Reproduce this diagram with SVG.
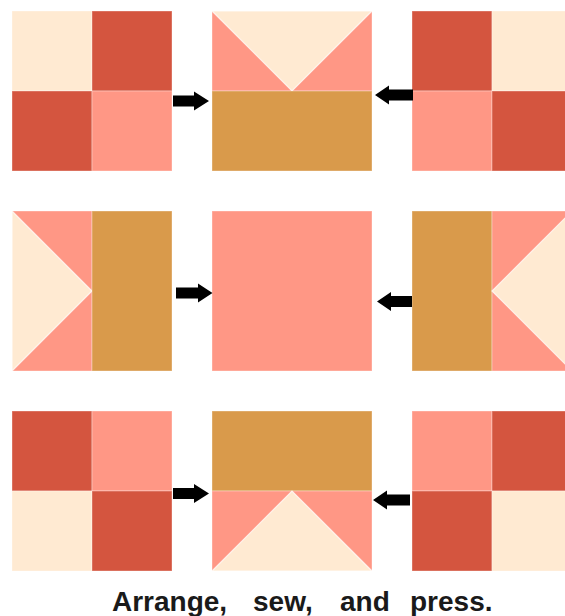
<svg xmlns="http://www.w3.org/2000/svg" width="565" height="616" viewBox="0 0 565 616">
<style>
.cr{fill:#FFEAD2}
.rd{fill:#D4553F}
.pk{fill:#FF9785}
.br{fill:#D99A4B}
.patch rect,.patch polygon{stroke:#fff;stroke-opacity:.35;stroke-width:1}
.patch .seam{stroke:#fff;stroke-opacity:.75;stroke-width:1.2}
.arrow{fill:#000}
.cap{font-family:"Liberation Sans",Arial,sans-serif;font-size:28px;font-weight:bold;fill:#1a1a1a}
</style>
<rect width="565" height="616" fill="#fff"/>

<!-- Row 1 -->
<g id="block-r1-left" class="patch">
<rect class="cr" x="12" y="11" width="80" height="80"/>
<rect class="rd" x="92" y="11" width="80" height="80"/>
<rect class="rd" x="12" y="91" width="80" height="80"/>
<rect class="pk" x="92" y="91" width="80" height="80"/>
</g>
<g id="block-r1-mid" class="patch">
<rect class="pk" x="212" y="11" width="160" height="80"/>
<polygon class="cr seam" points="212,11 372,11 292,91"/>
<rect class="br" x="212" y="91" width="160" height="80"/>
</g>
<g id="block-r1-right" class="patch">
<rect class="rd" x="412" y="11" width="80" height="80"/>
<rect class="cr" x="492" y="11" width="80" height="80"/>
<rect class="pk" x="412" y="91" width="80" height="80"/>
<rect class="rd" x="492" y="91" width="80" height="80"/>
</g>

<!-- Row 2 -->
<g id="block-r2-left" class="patch">
<rect class="pk" x="12" y="211" width="80" height="160"/>
<polygon class="cr seam" points="12,211 92,291 12,371"/>
<rect class="br" x="92" y="211" width="80" height="160"/>
</g>
<g id="block-r2-mid" class="patch">
<rect class="pk" x="212" y="211" width="160" height="160"/>
</g>
<g id="block-r2-right" class="patch">
<rect class="br" x="412" y="211" width="80" height="160"/>
<rect class="pk" x="492" y="211" width="80" height="160"/>
<polygon class="cr seam" points="572,211 492,291 572,371"/>
</g>

<!-- Row 3 -->
<g id="block-r3-left" class="patch">
<rect class="rd" x="12" y="411" width="80" height="80"/>
<rect class="pk" x="92" y="411" width="80" height="80"/>
<rect class="cr" x="12" y="491" width="80" height="80"/>
<rect class="rd" x="92" y="491" width="80" height="80"/>
</g>
<g id="block-r3-mid" class="patch">
<rect class="br" x="212" y="411" width="160" height="80"/>
<rect class="pk" x="212" y="491" width="160" height="80"/>
<polygon class="cr seam" points="212,571 292,491 372,571"/>
</g>
<g id="block-r3-right" class="patch">
<rect class="pk" x="412" y="411" width="80" height="80"/>
<rect class="rd" x="492" y="411" width="80" height="80"/>
<rect class="rd" x="412" y="491" width="80" height="80"/>
<rect class="cr" x="492" y="491" width="80" height="80"/>
</g>

<g id="connectors">
<polygon class="arrow" points="173,95.5 194,95.5 194,91.5 209,101 194,110.5 194,106.5 173,106.5"/>
<polygon class="arrow" points="375,95 389,85.5 389,89.5 413,89.5 413,100.5 389,100.5 389,104.5"/>
<polygon class="arrow" points="176,287.5 198,287.5 198,283.5 212.5,293 198,302.5 198,298.5 176,298.5"/>
<polygon class="arrow" points="377,301.5 391,292 391,296 412,296 412,307 391,307 391,311"/>
<polygon class="arrow" points="173,488 194,488 194,484 209,493.5 194,503 194,499 173,499"/>
<polygon class="arrow" points="373,500 387,490.5 387,494.5 410,494.5 410,505.5 387,505.5 387,509.5"/>
</g>

<text class="cap" y="611"><tspan x="112">Arrange,</tspan><tspan x="253">sew,</tspan><tspan x="340">and</tspan><tspan x="410">press.</tspan></text>
</svg>
